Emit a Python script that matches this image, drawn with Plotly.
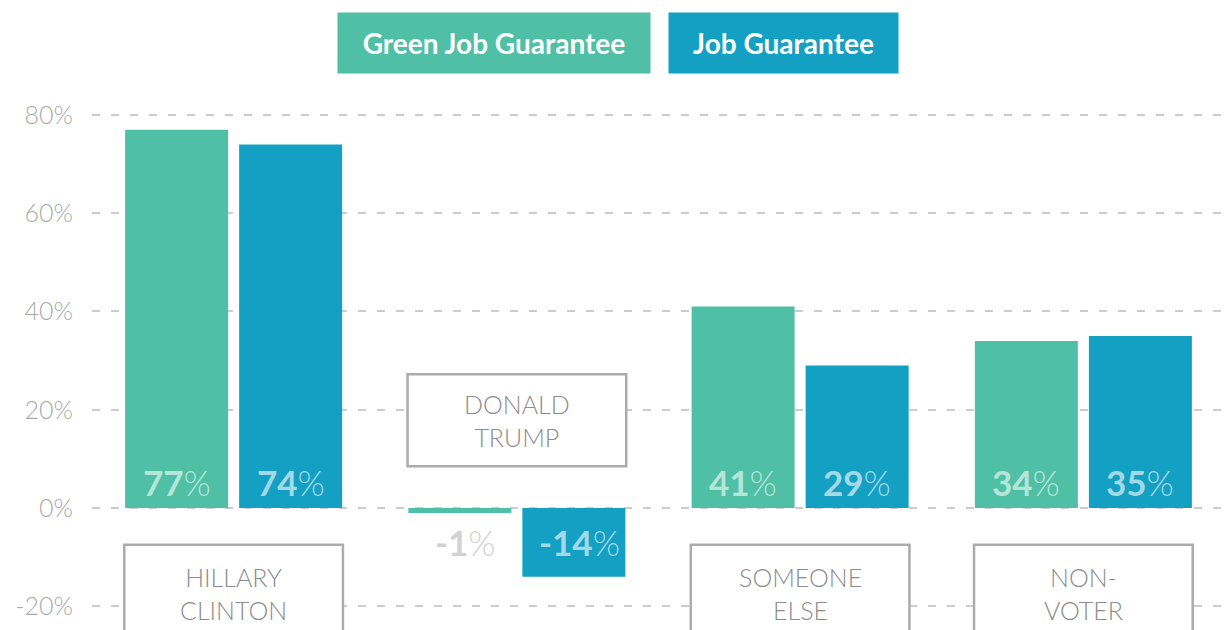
import plotly.graph_objects as go

categories = ["Hillary Clinton", "Donald Trump", "Someone Else", "Non-Voter"]
box_labels = ["HILLARY<br>CLINTON", "DONALD<br>TRUMP", "SOMEONE<br>ELSE", "NON-<br>VOTER"]
green_job = [77, -1, 41, 34]
job_guarantee = [74, -14, 29, 35]
y_ticks = [-20, 0, 20, 40, 60, 80]
y_tick_text = ["-20%", "0%", "20%", "40%", "60%", "80%"]

GREEN = "#4fbfa5"
BLUE = "#13a0c3"
GREEN_TXT = "#b5e5d9"
BLUE_TXT = "#a2d9e7"
GRAY_TXT = "#d2d2d2"
FONT = "Lato"

BARGAP = 0.195
GROUPGAP = 0.0965
BAR_OFF = (1 - BARGAP) / 4
BOX_HALF = 0.386

fig = go.Figure()
fig.add_trace(go.Bar(x=categories, y=green_job, name="Green Job Guarantee",
                     marker=dict(color=GREEN, line=dict(width=0)), hoverinfo="skip"))
fig.add_trace(go.Bar(x=categories, y=job_guarantee, name="Job Guarantee",
                     marker=dict(color=BLUE, line=dict(width=0)), hoverinfo="skip"))

neg_y = min(green_job + job_guarantee) / 2
annotations = []
for i in range(len(categories)):
    for vals, off, col in ((green_job, -BAR_OFF, GREEN_TXT), (job_guarantee, BAR_OFF, BLUE_TXT)):
        v = vals[i]
        color = col
        if v < 0 and abs(v) < 5:
            color = GRAY_TXT
        annotations.append(dict(
            x=i + off, y=0 if v >= 0 else neg_y, xref="x", yref="y",
            text=f"<b>{v}</b>%", showarrow=False,
            yanchor="bottom" if v >= 0 else "middle", yshift=3 if v >= 0 else 0,
            xshift=0 if v >= 0 else 6,
            font=dict(family=FONT, size=35, color=color, weight=300),
        ))

# category label boxes
shapes = []
for i, lab in enumerate(box_labels):
    below = min(green_job[i], job_guarantee[i]) >= 0
    y0, y1 = (-7.5, -25.8) if below else (8.5, 27.2)
    shapes.append(dict(type="rect", xref="x", yref="y", x0=i - BOX_HALF, x1=i + BOX_HALF,
                       y0=y0, y1=y1, line=dict(color="#ababab", width=2.5),
                       fillcolor="white", layer="above"))
    annotations.append(dict(
        x=i, y=(y0 + y1) / 2 if not below else y0 - 9.8, xref="x", yref="y",
        text=lab, showarrow=False, yanchor="middle",
        font=dict(family=FONT, size=25, color="#8c8c8c", weight=300),
    ))

# legend boxes
for name, col, cx, w in (("Green Job Guarantee", GREEN, 0.3548, 312), ("Job Guarantee", BLUE, 0.6103, 229)):
    annotations.append(dict(
        x=cx, y=0.9317, xref="paper", yref="paper", text=f"<b>{name}</b>",
        showarrow=False, bgcolor=col, width=w, height=60, borderpad=0,
        xanchor="center", yanchor="middle",
        font=dict(family=FONT, size=28, color="white"),
    ))

fig.update_layout(
    width=1225, height=630, autosize=False,
    margin=dict(l=92, r=0, t=0, b=0),
    plot_bgcolor="white", paper_bgcolor="white",
    barmode="group", bargap=BARGAP, bargroupgap=GROUPGAP,
    showlegend=False,
    annotations=annotations, shapes=shapes,
    xaxis=dict(showticklabels=False, showgrid=False, zeroline=False, showline=False,
               range=[-0.5, 3.5], fixedrange=True),
    yaxis=dict(range=[-24.83, 103.4], tickvals=y_ticks, ticktext=y_tick_text,
               showgrid=True, gridcolor="#cccccc", gridwidth=1.5, griddash="8px,11px",
               zeroline=False, showline=False, ticklabelstandoff=18,
               tickfont=dict(family=FONT, size=25, color="#aaaaaa", weight=300)),
)

fig.write_html("out.html", config={"displayModeBar": False},
               post_script="document.body.style.margin='0';")
